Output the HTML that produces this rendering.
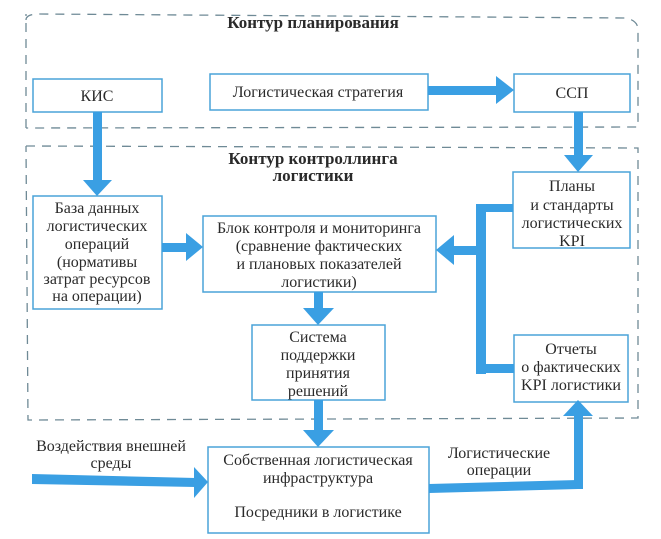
<!DOCTYPE html>
<html><head><meta charset="utf-8"><style>
body{margin:0;background:#fff}
svg text{font-family:"Liberation Serif",serif;fill:#2a2a2a}
</style></head><body>
<svg width="661" height="534" viewBox="0 0 661 534" xmlns="http://www.w3.org/2000/svg">
<g fill="none" stroke="#6f8a96" stroke-width="1.3" stroke-dasharray="9,7">
<path d="M26 20 Q26 14 40 14 L625 18 Q638 20 638 30 L638 127 L26 128"/>
<path d="M26 128 L26 14"/>
<path d="M26 146 L638 148 L638 418 L28 420 L26 146"/>
</g>
<text x="313" y="28" font-size="17" font-weight="bold" text-anchor="middle">Контур планирования</text>
<text x="313" y="164" font-size="17" font-weight="bold" text-anchor="middle">Контур контроллинга</text>
<text x="313" y="181" font-size="17" font-weight="bold" text-anchor="middle">логистики</text>
<g fill="#fff" stroke="#4aa3d8" stroke-width="1.5">
<rect x="33" y="79" width="129" height="33"/>
<rect x="210" y="74" width="218" height="36"/>
<rect x="514" y="74" width="116" height="38"/>
<rect x="513" y="172" width="117" height="76"/>
<rect x="33" y="196" width="129" height="113"/>
<rect x="203" y="216" width="233" height="76"/>
<rect x="252" y="325" width="133" height="75"/>
<rect x="514" y="335" width="114" height="67"/>
<rect x="208" y="447" width="221" height="86"/>
</g>
<g fill="#3a9fe3" stroke="none">
<rect x="93" y="112" width="9" height="70"/><polygon points="83,180 112,180 97,196"/>
<rect x="428" y="86" width="70" height="9"/><polygon points="496,76 514,90 496,104"/>
<rect x="574" y="112" width="9" height="45"/><polygon points="564,155 593,155 578,172"/>
<rect x="162" y="243" width="26" height="9"/><polygon points="186,233 203,247 186,261"/>
<rect x="476" y="204" width="10" height="170"/><rect x="476" y="204" width="37" height="8"/><rect x="476" y="364" width="38" height="9"/>
<rect x="452" y="246" width="26" height="9"/><polygon points="454,235 436,250 454,265"/>
<rect x="314" y="292" width="9" height="18"/><polygon points="303,308 334,308 318,325"/>
<rect x="314" y="400" width="9" height="32"/><polygon points="303,430 334,430 318,447"/>
<polygon points="32,474 196,478 196,487 32,484"/><polygon points="194,467 208,482 194,498"/>
<polygon points="429,484 578,480 578,489 429,493"/><rect x="574" y="414" width="9" height="75"/><polygon points="563,416 578,400 593,416"/>
</g>
<g font-size="16" text-anchor="middle">
<text x="97" y="101">КИС</text>
<text x="318" y="97">Логистическая стратегия</text>
<text x="572" y="98">ССП</text>
<text x="572" y="191">Планы</text>
<text x="572" y="210">и стандарты</text>
<text x="572" y="228">логистических</text>
<text x="572" y="246">KPI</text>
<text x="97" y="213">База данных</text>
<text x="97" y="231">логистических</text>
<text x="97" y="249">операций</text>
<text x="97" y="267">(нормативы</text>
<text x="97" y="284">затрат ресурсов</text>
<text x="97" y="301">на операции)</text>
<text x="319" y="233">Блок контроля и мониторинга</text>
<text x="319" y="251">(сравнение фактических</text>
<text x="319" y="269">и плановых показателей</text>
<text x="319" y="287">логистики)</text>
<text x="318" y="342">Система</text>
<text x="318" y="360">поддержки</text>
<text x="318" y="378">принятия</text>
<text x="318" y="396">решений</text>
<text x="571" y="354">Отчеты</text>
<text x="571" y="372">о фактических</text>
<text x="571" y="390">KPI логистики</text>
<text x="318" y="465">Собственная логистическая</text>
<text x="318" y="483">инфраструктура</text>
<text x="318" y="517">Посредники в логистике</text>
<text x="111" y="451">Воздействия внешней</text>
<text x="111" y="468">среды</text>
<text x="499" y="458">Логистические</text>
<text x="499" y="475">операции</text>
</g>
</svg>
</body></html>
